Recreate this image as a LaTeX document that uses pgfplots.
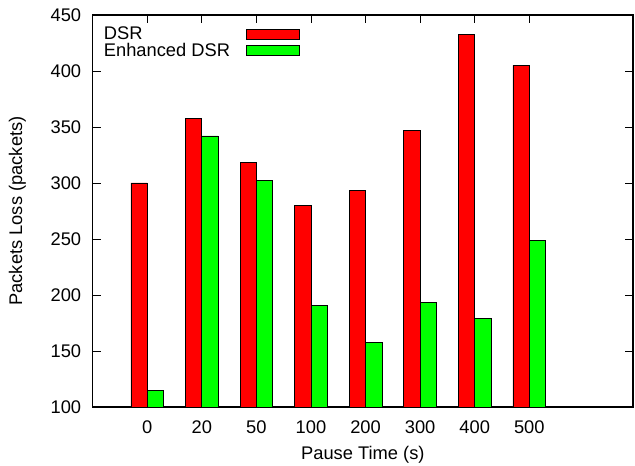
\documentclass[border=0pt]{standalone}
\usepackage{fontspec}
\setmainfont{Liberation Sans}
\usepackage{pgfplots}
\pgfplotsset{compat=1.18}
\definecolor{dsrred}{HTML}{FF0000}
\definecolor{dsrgreen}{HTML}{00FF00}
\begin{document}
\begin{tikzpicture}
\begin{axis}[
  at={(0,0)}, anchor=south west,
  scale only axis, width=540.3bp, height=392bp,
  xmin=-1, xmax=8.9, ymin=100, ymax=450,
  xtick={0,...,7}, xticklabels={0,20,50,100,200,300,400,500},
  ytick={100,150,...,450},
  tick align=inside, major tick length=8bp,
  tick style={black, line width=0.8bp},
  axis line style={line width=1.2bp},
  font=\fontsize{18.3bp}{22bp}\selectfont,
  /pgf/number format/assume math mode=true,
  xticklabel shift=10bp, yticklabel shift=8bp,
  xlabel shift=6bp, ylabel shift=18bp,
  xlabel={Pause Time (s)}, ylabel={Packets Loss (packets)},
  legend plot pos=right,
  legend cell align=left,
  legend image code/.code={\draw[#1] (0bp,-5bp) rectangle (53bp,5bp);},
  legend style={at={(0,1)}, anchor=north west, xshift=6bp, yshift=-8bp,
    draw=none, fill=none, font=\fontsize{18.3bp}{22bp}\selectfont,
    column sep=13.5bp, row sep=-2bp},
]
\addplot[ybar, bar width=0.3, bar shift=-0.15, fill=dsrred, draw=black, line width=0.8bp]
  coordinates {(0,300) (1,358) (2,318) (3,280) (4,293) (5,347) (6,433) (7,405)};
\addlegendentry{DSR}
\addplot[ybar, bar width=0.3, bar shift=0.15, fill=dsrgreen, draw=black, line width=0.8bp]
  coordinates {(0,115) (1,342) (2,302) (3,191) (4,158) (5,193) (6,179) (7,249)};
\addlegendentry{Enhanced DSR}
\end{axis}
\pgfresetboundingbox
\path (-92.7bp,-59bp) rectangle (542.3bp,407bp);
\end{tikzpicture}
\end{document}
